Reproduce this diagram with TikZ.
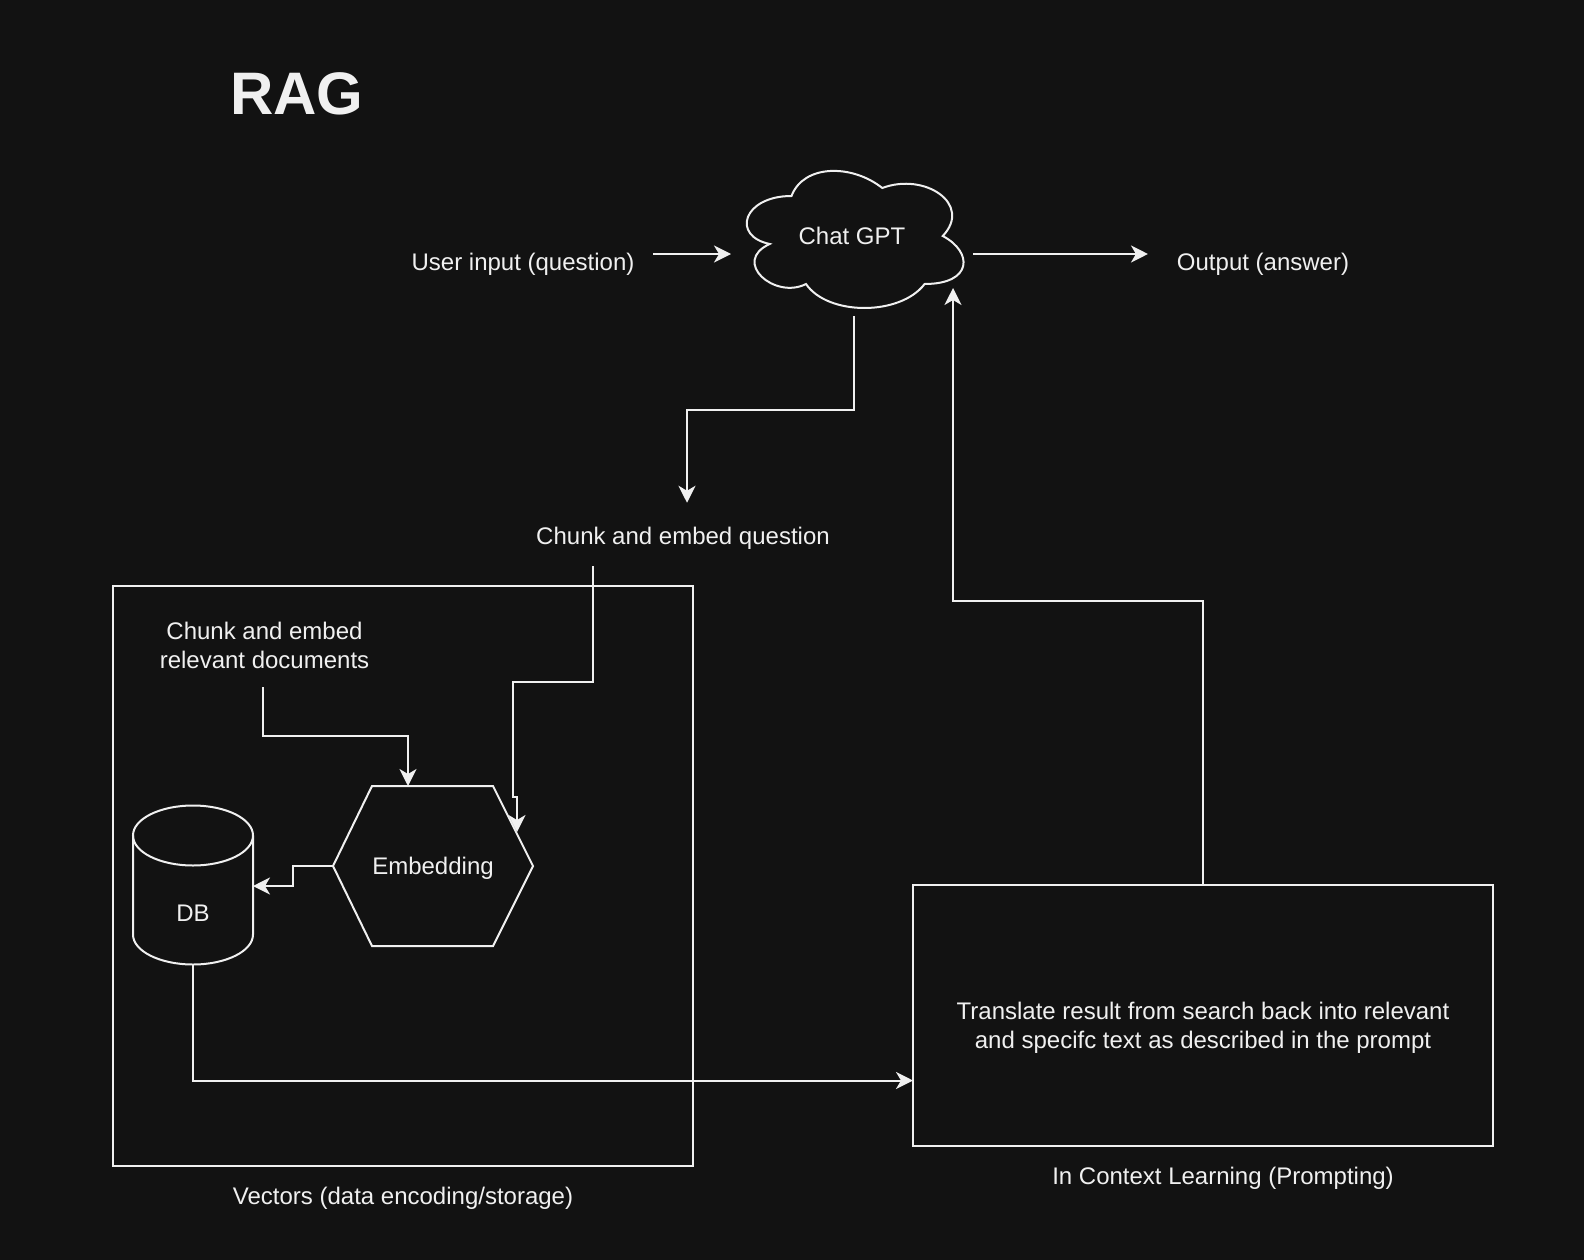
\documentclass[tikz,border=0pt]{standalone}
\usepackage{fontspec}
\setmainfont{Liberation Sans}
\usepackage{xcolor}
\usetikzlibrary{arrows.meta}
\definecolor{fond}{HTML}{121212}
\definecolor{blanc}{HTML}{F0F0F0}

\begin{document}
\begin{tikzpicture}[x=1pt,y=-1pt,
    ligne/.style={draw=blanc, line width=2pt},
    fleche/.style={ligne, -{Stealth[length=17pt,width=17pt,inset=5pt]}},
    etiq/.style={text=blanc, font=\fontsize{24}{29}\selectfont, inner sep=0pt, outer sep=0pt, text height=17.5pt, text depth=5pt},
    bloc/.style={text=blanc, font=\fontsize{24}{29}\selectfont, inner sep=0pt, outer sep=0pt, align=center},
    forme/.style={etiq, minimum width=#1, text height=21.5pt},
    cadre/.style={ligne, inner sep=0pt, outer sep=0pt}]
    % fond sombre
    \fill[fond] (0,0) rectangle (1584,1260);
    \node[text=blanc, font=\bfseries\fontsize{60}{72}\selectfont, inner sep=0pt, anchor=base] (rag) at (297,115) {RAG};
    % haut : question, Chat GPT, réponse
    \node[etiq] (user) at (523,264) {User input (question)};
    \node[forme=242pt, minimum height=160pt] (gpt) at (852,236) {Chat GPT};
    \node[etiq] (out) at (1263,264) {Output (answer)};
    \begin{scope}[shift={(gpt.north west)}, x=242pt, y=-160pt]
    \draw[ligne] (0.25,0.25) .. controls (0.05,0.25) and (0,0.5) .. (0.16,0.55)
        .. controls (0,0.66) and (0.18,0.9) .. (0.31,0.8)
        .. controls (0.4,1) and (0.7,1) .. (0.8,0.8)
        .. controls (1,0.8) and (1,0.6) .. (0.875,0.5)
        .. controls (1,0.3) and (0.8,0.1) .. (0.625,0.2)
        .. controls (0.5,0.05) and (0.3,0.05) .. (0.25,0.25) -- cycle;
    \end{scope}
    \node[etiq] (chunkq) at (683,538) {Chunk and embed question};
    % bloc des vecteurs
    \node[cadre, minimum width=580pt, minimum height=580pt] (vect) at (403,876) {};
    \node[etiq] (vectlab) at (403,1198) {Vectors (data encoding/storage)};
    \node[bloc] (docs) at (264.5,645) {Chunk and embed\\relevant documents};
    \node[forme=200pt, minimum height=160pt] (emb) at (433,866) {Embedding};
    \draw[ligne] (emb.west) -- ([xshift=39pt]emb.north west) -- ([xshift=-40pt]emb.north east)
        -- (emb.east) -- ([xshift=-40pt]emb.south east) -- ([xshift=39pt]emb.south west) -- cycle;
    \node[forme=120pt, minimum height=99pt, text height=17.5pt] (db) at (193,915) {DB};
    \draw[ligne] ([yshift=30pt]db.north) ellipse [x radius=60pt, y radius=30pt];
    \draw[ligne] ([yshift=30pt]db.north west) -- ([yshift=30pt]db.south west)
        arc[start angle=180, end angle=360, x radius=60pt, y radius=30pt] -- ([yshift=30pt]db.north east);
    % bloc du prompt
    \node[cadre, minimum width=580pt, minimum height=261pt] (icl) at (1203,1015.5) {};
    \node[bloc] (trad) at (1203,1028) {Translate result from search back into relevant\\and specifc text as described in the prompt};
    \node[etiq] (icllab) at (1223,1178) {In Context Learning (Prompting)};
    % flèches
    \draw[fleche] ([xshift=19pt,yshift=10pt]user.east) -- ([yshift=-18pt]gpt.west);
    \draw[fleche] ([yshift=-18pt]gpt.east) -- ([xshift=-29pt,yshift=10pt]out.west);
    \draw[fleche] ([xshift=2pt]gpt.south) -- ++(0,94) -| ([xshift=4pt,yshift=24pt]chunkq.north);
    \draw[fleche] ([xshift=-90pt,yshift=-17pt]chunkq.south) |- ++(-80,116) -- ++(0,115)
        -| ([xshift=-16pt,yshift=-46pt]emb.north east);
    \draw[fleche] ([xshift=-2pt,yshift=-19pt]docs.south) -- ++(0,49) -| ([xshift=-25pt]emb.north);
    \draw[fleche] (emb.west) -- ++(-40,0) |- ([yshift=29pt]db.east);
    \draw[fleche] (db.south) |- ([yshift=-65pt]icl.west);
    \draw[fleche] (icl.north) -- ++(0,-284) -| ([xshift=-20pt,yshift=28pt]gpt.south east);
\end{tikzpicture}
\end{document}
